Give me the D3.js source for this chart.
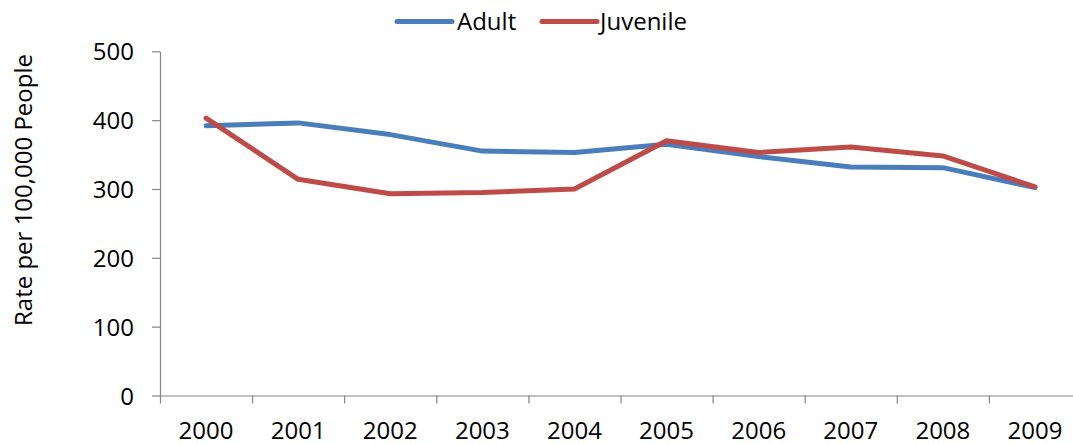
<!DOCTYPE html>
<html>
<head>
<meta charset="utf-8">
<script src="https://cdn.jsdelivr.net/npm/d3@7"></script>
<style>
  html, body { margin: 0; padding: 0; background: #fff; }
  svg { display: block; }
  text { font-family: "Open Sans", "Liberation Sans", sans-serif; fill: #000; }
</style>
</head>
<body>
<svg id="chart" width="1073" height="444"></svg>
<script>
const years = ["2000","2001","2002","2003","2004","2005","2006","2007","2008","2009"];
const adult = [392, 396, 379, 355, 353, 365, 347, 332, 331, 302];
const juvenile = [403, 314, 293, 295, 300, 370, 353, 361, 348, 303];
const yTicks = [0, 100, 200, 300, 400, 500];
const seriesNames = ["Adult", "Juvenile"];
const seriesColors = ["#4a7ebb", "#be4b48"];
const yTitle = "Rate per 100,000 People";

const series = [
  { name: seriesNames[0], color: seriesColors[0], values: adult },
  { name: seriesNames[1], color: seriesColors[1], values: juvenile }
];

const svg = d3.select("#chart");
const mLeft = 160, mRight = 1081, mTop = 51.3, mBottom = 395.5;
const axisColor = "#868686";

const x = d3.scaleBand().domain(years).range([mLeft, mRight]).padding(0);
const xb = d3.scaleLinear().domain([0, years.length]).range([mLeft, mRight]);
const y = d3.scaleLinear().domain([0, 500]).range([mBottom, mTop]);

// Y axis
const gy = svg.append("g").attr("transform", `translate(${mLeft},0)`)
  .call(d3.axisLeft(y).tickValues(yTicks).tickSize(8).tickPadding(18).tickSizeOuter(0));
gy.select(".domain").attr("stroke", axisColor).attr("stroke-width", 1.2);
gy.selectAll(".tick line").attr("stroke", axisColor).attr("stroke-width", 1.2);
gy.selectAll(".tick text").attr("font-size", 24).attr("font-family", "Open Sans")
  .attr("dy", null).attr("y", 8.5);

// X axis boundary ticks
const gx = svg.append("g").attr("transform", `translate(0,${mBottom})`)
  .call(d3.axisBottom(xb).tickValues(d3.range(0, years.length + 1)).tickSize(8).tickSizeOuter(0).tickFormat(""));
gx.select(".domain").attr("stroke", axisColor).attr("stroke-width", 1.2);
gx.selectAll(".tick line").attr("stroke", axisColor).attr("stroke-width", 1.2);

// X labels
const gxl = svg.append("g").attr("transform", `translate(0,${mBottom})`)
  .call(d3.axisBottom(x).tickSize(0).tickPadding(0));
gxl.select(".domain").remove();
gxl.selectAll(".tick text").attr("font-size", 24).attr("font-family", "Open Sans")
  .attr("dy", null).attr("y", 43);

// Y title
svg.append("text")
  .attr("transform", "translate(32,190) rotate(-90)")
  .attr("text-anchor", "middle")
  .attr("font-size", 24)
  .text(yTitle);

// Lines
const line = d3.line()
  .x((d, i) => x(years[i]) + x.bandwidth() / 2)
  .y(d => y(d));

svg.selectAll("path.series").data(series).enter().append("path")
  .attr("class", "series")
  .attr("d", d => line(d.values))
  .attr("fill", "none")
  .attr("stroke", d => d.color)
  .attr("stroke-width", 5)
  .attr("stroke-linejoin", "round")
  .attr("stroke-linecap", "round");

// Legend
const legendPos = [397, 542];
const lg = svg.selectAll("g.legend").data(series).enter().append("g")
  .attr("class", "legend")
  .attr("transform", (d, i) => `translate(${legendPos[i]},0)`);
lg.append("line").attr("x1", 0).attr("x2", 55).attr("y1", 21.5).attr("y2", 21.5)
  .attr("stroke", d => d.color).attr("stroke-width", 5).attr("stroke-linecap", "round");
lg.append("text").attr("x", (d, i) => i === 0 ? 60 : 58).attr("y", 29.5)
  .attr("font-size", 24).text(d => d.name);
</script>
</body>
</html>
